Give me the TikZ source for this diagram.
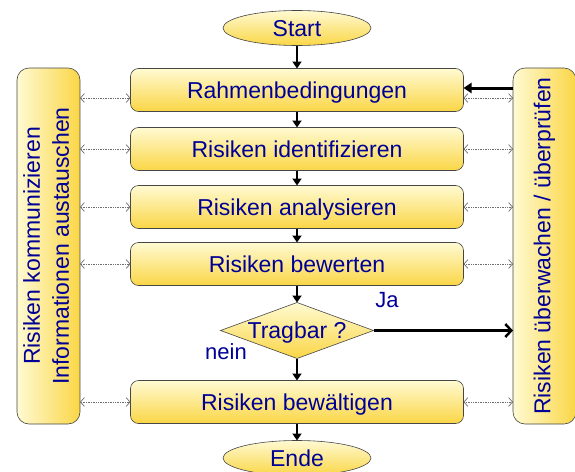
\documentclass[tikz,border=0pt]{standalone}
\usepackage{fontspec}
\setmainfont{Liberation Sans}
\usepackage{xcolor}
\usepackage{graphicx}
\usepackage{tikz}
\usetikzlibrary{arrows.meta,positioning,shapes.geometric}
\definecolor{dunkelblau}{RGB}{0,0,150}
\definecolor{hellgelb}{RGB}{255,250,210}
\definecolor{goldgelb}{RGB}{250,214,70}
\definecolor{rand}{RGB}{70,70,70}
\definecolor{punktgrau}{RGB}{110,110,110}
\tikzset{
  schrift/.style={text=dunkelblau,font=\fontsize{23}{29}\selectfont},
  schritt/.style={schrift,draw=rand,line width=0.6pt,rounded corners=8pt,
    top color=hellgelb,bottom color=goldgelb,minimum width=333pt,
    minimum height=43pt,inner sep=0pt,outer sep=0pt,text height=17pt,text depth=0pt},
  grenze/.style={schritt,ellipse,rounded corners=0pt,minimum width=148pt,
    minimum height=35pt},
  frage/.style={schritt,diamond,rounded corners=0pt,aspect=2.7,
    minimum width=153pt,minimum height=56pt,text height=16pt},
  seite/.style={schrift,draw=rand,line width=0.6pt,rounded corners=12pt,
    left color=hellgelb,right color=goldgelb,minimum width=63pt,
    minimum height=356pt,inner sep=0pt,outer sep=0pt},
  marke/.style={text=dunkelblau,font=\fontsize{22}{26}\selectfont},
  fluss/.style={line width=2pt,-{Triangle[length=7pt,width=9pt]}},
  infopfeil/.style={punktgrau,densely dotted,line width=0.7pt,
    {Straight Barb[length=4pt,width=9pt]}-{Straight Barb[length=4pt,width=9pt]}}
}
\begin{document}
\begin{tikzpicture}[x=1pt,y=1pt]
\useasboundingbox (0,0) rectangle (575,-471);
% Ablauf in der Mitte
\node[grenze] (start) at (297,-28) {Start};
\node[schritt,below=23pt of start] (rahmen) {Rahmenbedingungen};
\node[schritt,below=16pt of rahmen] (ident) {Risiken identifizieren};
\node[schritt,below=15pt of ident] (analyse) {Risiken analysieren};
\node[schritt,below=14pt of analyse] (bewerten) {Risiken bewerten};
\node[frage,below=17pt of bewerten] (tragbar) {Tragbar ?};
\node[schritt,below=22pt of tragbar] (bewaeltigen) {Risiken bewältigen};
\node[grenze,below=17pt of bewaeltigen] (ende) {Ende};
% Seitliche Begleitprozesse
\node[seite] (links) at (48.5,-246)
  {\rotatebox{90}{\begin{tabular}{@{}c@{}}Risiken kommunizieren\\Informationen austauschen\end{tabular}}};
\node[seite] (rechts) at (544.5,-246) {\rotatebox{90}{Risiken überwachen / überprüfen}};
\node[marke] (ja) at (387,-300) {Ja};
\node[marke] (nein) at (226,-352) {nein};

\draw[fluss] (start) -- (rahmen);
\draw[fluss] (rahmen) -- (ident);
\draw[fluss] (ident) -- (analyse);
\draw[fluss] (analyse) -- (bewerten);
\draw[fluss] (bewerten) -- (tragbar);
\draw[fluss] (tragbar) -- (bewaeltigen);
\draw[fluss] (bewaeltigen) -- (ende);
\draw[line width=2.5pt,-{Straight Barb[length=6pt,width=13pt]}] (tragbar.east) -- (tragbar.east -| rechts.west);
\draw[line width=3pt,-{Triangle[length=8pt,width=10pt]}] ([yshift=2pt]rahmen.east -| rechts.west) -- ([yshift=2pt]rahmen.east);

\draw[infopfeil] ([yshift=-8pt]rahmen.west -| links.east) -- ([yshift=-8pt]rahmen.west);
\draw[infopfeil] ([yshift=-8pt]rahmen.east) -- ([yshift=-8pt]rahmen.east -| rechts.west);
\foreach \n in {ident,analyse,bewerten,bewaeltigen}{
  \draw[infopfeil] (\n.west -| links.east) -- (\n.west);
  \draw[infopfeil] (\n.east) -- (\n.east -| rechts.west);
}
\end{tikzpicture}
\end{document}
